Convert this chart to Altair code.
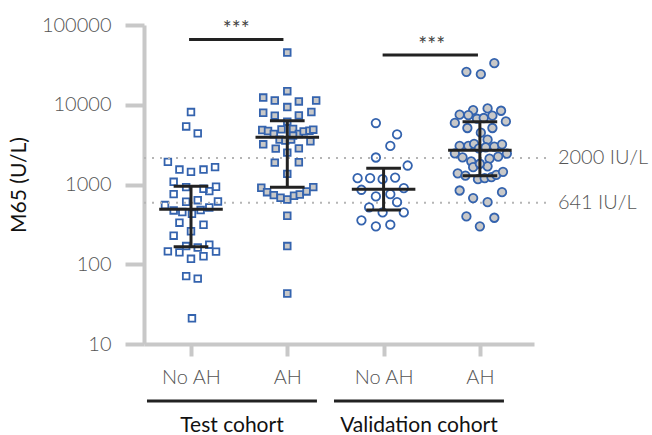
import altair as alt
import pandas as pd

FONT = "Lato"
BLUE = "#3463ae"
GRAY_FILL = "#c8c8c8"
AXIS_GRAY = "#c8c8c8"
DARK = "#222222"

tick_labels = ["No AH", "AH", "No AH", "AH"]
cohorts = ["Test cohort", "Validation cohort"]

# ---- values (U/L) and beeswarm column offsets (fraction of group spacing)
test_noah = [8100, 5350, 4380, 1920, 1540, 1440, 1540, 1650, 1080, 927, 884, 936, 826, 757,
             607, 636, 613, 552, 473, 451, 430, 478, 516, 332, 313, 259, 228, 169, 162, 176,
             145, 141, 144, 117, 126, 71, 66, 21]
test_noah_dx = [0, -0.05, 0.07, -0.24, -0.12, 0, 0.13, 0.25, -0.18, -0.05, 0.13, 0.26, 0.19, -0.18,
                -0.05, 0.07, 0.28, -0.27, -0.18, -0.09, 0.01, 0.1, 0.19, -0.12, 0.13, 0, -0.18, -0.05, 0.07, 0.19,
                -0.24, -0.12, 0.26, 0, 0.13, -0.05, 0.07, 0.01]

test_ah = [45100, 14800, 12300, 11300, 11000, 11300, 9350, 7940, 7290, 7350, 8110, 6130,
           4820, 4690, 4300, 4910, 4970, 4300, 4640, 4730, 4870, 3650, 3550, 3650, 4100,
           3190, 2820, 2840, 3480, 2510, 1880, 1900, 1360,
           910, 801, 736, 682, 649, 722, 750, 818, 927, 406, 169, 43]
test_ah_dx = [0, 0, -0.25, -0.13, 0.12, 0.30, 0, -0.25, -0.13, 0.12, 0.25, 0,
              -0.26, -0.20, -0.14, -0.06, 0.06, 0.12, 0.17, 0.23, 0.27, -0.08, -0.02, 0.04, 0.06,
              -0.25, -0.12, 0.12, 0.24, 0, -0.13, 0.12, 0,
              -0.27, -0.21, -0.14, -0.07, 0, 0.07, 0.13, 0.20, 0.27, 0, 0, 0]

val_noah = [5900, 4250, 3050, 2180, 1730, 1200, 1200, 1165, 1220, 859, 900, 708, 757, 601,
            516, 447, 447, 355, 299, 313]
val_noah_dx = [-0.08, 0.14, 0.07, -0.08, 0.25, -0.27, -0.14, -0.01, 0.12, -0.23, 0.21, -0.08, 0.07, 0.14,
               -0.15, -0.01, 0.21, -0.23, -0.08, 0.07]

val_ah = [33200, 25900, 24200, 7500, 8580, 9000, 8410, 7430, 6680, 6820, 7290, 5910, 6180,
          5110, 5110, 4470, 3650, 3050, 3050, 3230, 2840, 2930, 2985, 3190, 2460, 2440,
          2190, 2240, 1950, 2110, 1650, 1690, 1820, 1380, 1290, 1165, 1200, 1235, 1320, 1440,
          841, 675, 601, 801, 398, 383, 299]
val_ah_dx = [0.15, -0.14, 0.01, -0.21, -0.07, 0.08, 0.22, -0.12, -0.03, 0.04, 0.13, -0.26, 0.27,
             -0.13, 0.13, 0.01, 0.08, -0.21, -0.12, -0.06, -0.01, 0.06, 0.15, 0.23, -0.26, 0.28,
             -0.18, 0.19, -0.09, 0.10, -0.07, 0.08, 0, -0.23, -0.15, -0.02, 0.05, 0.12, 0.17, 0.24,
             -0.21, -0.07, 0.08, 0.23, -0.14, 0.15, 0]

# median and interquartile range
medians = [490, 3900, 874, 2680]
q1 = [166, 927, 478, 1285]
q3 = [953, 6300, 1600, 6130]

# reference thresholds (as drawn) and labels
ref_values = [2150, 590]
ref_labels = ["2000 IU/L", "641 IU/L"]

# significance brackets
sig_x = [-0.02, 1.99]
sig_x2 = [0.96, 2.98]
sig_y = [66000, 42000]
sig_text_x = [0.47, 2.5]
sig_text_y = [73000, 46500]

# cohort brackets (group units)
cohort_x = [-0.457, 1.485]
cohort_x2 = [1.308, 3.25]

# ---------------------------------------------------------------------------
def make_df(vals, dx, g):
    return pd.DataFrame({"value": vals, "pos": [g + d for d in dx]})

df_open_sq = make_df(test_noah, test_noah_dx, 0)
df_fill_sq = make_df(test_ah, test_ah_dx, 1)
df_open_ci = make_df(val_noah, val_noah_dx, 2)
df_fill_ci = make_df(val_ah, val_ah_dx, 3)

XMIN, XMAX = -0.488, 3.562
xscale = alt.Scale(domain=[XMIN, XMAX], nice=False, zero=False)
yscale = alt.Scale(type="log", domain=[10, 100000], nice=False)

label_expr = "[" + ",".join("'" + t + "'" for t in tick_labels) + "][datum.value]"

x_axis = alt.Axis(values=[0, 1, 2, 3], labelExpr=label_expr, title=None, grid=False,
                  domainColor=AXIS_GRAY, domainWidth=4, tickColor=AXIS_GRAY, tickWidth=4,
                  tickSize=12, labelFont=FONT, labelFontSize=20, labelFontWeight=300,
                  labelColor="#555555", labelPadding=11)
y_axis = alt.Axis(values=[10, 100, 1000, 10000, 100000], format="d", title="M65 (U/L)",
                  grid=False, domainColor=AXIS_GRAY, domainWidth=4, tickColor=AXIS_GRAY,
                  tickWidth=4, tickSize=19, labelFont=FONT, labelFontSize=20, labelFontWeight=300,
                  labelColor="#555555", labelPadding=14, titleFont=FONT, titleFontSize=21,
                  titleFontWeight="normal", titleColor="#111111", titlePadding=12)

X = lambda f="pos": alt.X(f"{f}:Q", scale=xscale, axis=x_axis, title=None)
Y = lambda f="value": alt.Y(f"{f}:Q", scale=yscale, axis=y_axis, title="M65 (U/L)")

pts_open_sq = alt.Chart(df_open_sq).mark_point(shape="square", size=44, filled=False,
                                               stroke=BLUE, strokeWidth=1.8, opacity=1).encode(x=X(), y=Y())
pts_fill_sq = alt.Chart(df_fill_sq).mark_point(shape="square", size=44, fill=GRAY_FILL,
                                               fillOpacity=1, stroke=BLUE, strokeWidth=1.8,
                                               opacity=1).encode(x=X(), y=Y())
pts_open_ci = alt.Chart(df_open_ci).mark_point(shape="circle", size=72, filled=False,
                                               stroke=BLUE, strokeWidth=1.8, opacity=1).encode(x=X(), y=Y())
pts_fill_ci = alt.Chart(df_fill_ci).mark_point(shape="circle", size=72, fill=GRAY_FILL,
                                               fillOpacity=1, stroke=BLUE, strokeWidth=1.8,
                                               opacity=1).encode(x=X(), y=Y())

stats = pd.DataFrame({"g": [0, 1, 2, 3], "median": medians, "q1": q1, "q3": q3})
stats["mx1"] = stats["g"] - 0.33
stats["mx2"] = stats["g"] + 0.33
stats["cx1"] = stats["g"] - 0.18
stats["cx2"] = stats["g"] + 0.18
sbase = alt.Chart(stats)
med = sbase.mark_rule(color=DARK, strokeWidth=3).encode(x=X("mx1"), x2="mx2", y=Y("median"))
cap1 = sbase.mark_rule(color=DARK, strokeWidth=3).encode(x=X("cx1"), x2="cx2", y=Y("q1"))
cap3 = sbase.mark_rule(color=DARK, strokeWidth=3).encode(x=X("cx1"), x2="cx2", y=Y("q3"))
vert = sbase.mark_rule(color=DARK, strokeWidth=3).encode(x=X("g"), y=Y("q1"), y2="q3")

refs = pd.DataFrame({"v": ref_values, "label": ref_labels, "x1": [XMIN] * 2, "x2": [3.71] * 2,
                     "xt": [3.81] * 2})
ref_rules = alt.Chart(refs).mark_rule(color="#b5b5b5", strokeWidth=2, strokeDash=[2, 6]).encode(
    x=X("x1"), x2="x2", y=Y("v"))
ref_text = alt.Chart(refs).mark_text(align="left", baseline="middle", font=FONT, fontSize=20,
                                     fontWeight=300, color="#555555").encode(
    x=X("xt"), y=Y("v"), text="label:N")

sig = pd.DataFrame({"x1": sig_x, "x2": sig_x2, "y": sig_y, "tx": sig_text_x, "ty": sig_text_y,
                    "t": ["***", "***"]})
sig_rules = alt.Chart(sig).mark_rule(color=DARK, strokeWidth=3).encode(x=X("x1"), x2="x2", y=Y("y"))
sig_text = alt.Chart(sig).mark_text(align="center", baseline="alphabetic", font=FONT, fontSize=21,
                                    color="#444444").encode(x=X("tx"), y=Y("ty"), text="t:N")

coh = pd.DataFrame({"x1": cohort_x, "x2": cohort_x2, "label": cohorts,
                    "xc": [(a + b) / 2 for a, b in zip(cohort_x, cohort_x2)]})
coh_rules = alt.Chart(coh).mark_rule(color=DARK, strokeWidth=3).encode(
    x=X("x1"), x2="x2", y=alt.value(376))
coh_text = alt.Chart(coh).mark_text(align="center", baseline="middle", font=FONT, fontSize=21,
                                    color="#111111").encode(x=X("xc"), y=alt.value(401), text="label:N")

chart = alt.layer(
    pts_open_sq, ref_rules, pts_fill_sq, pts_open_ci, pts_fill_ci,
    med, cap1, cap3, vert, ref_text, sig_rules, sig_text, coh_rules, coh_text
).properties(
    width=390, height=319,
    autosize=alt.AutoSizeParams(type="none"),
    padding={"left": 144, "top": 25, "right": 118, "bottom": 91},
).configure_view(stroke=None)

chart.save("out.html", embed_options={"renderer": "svg", "actions": False})
